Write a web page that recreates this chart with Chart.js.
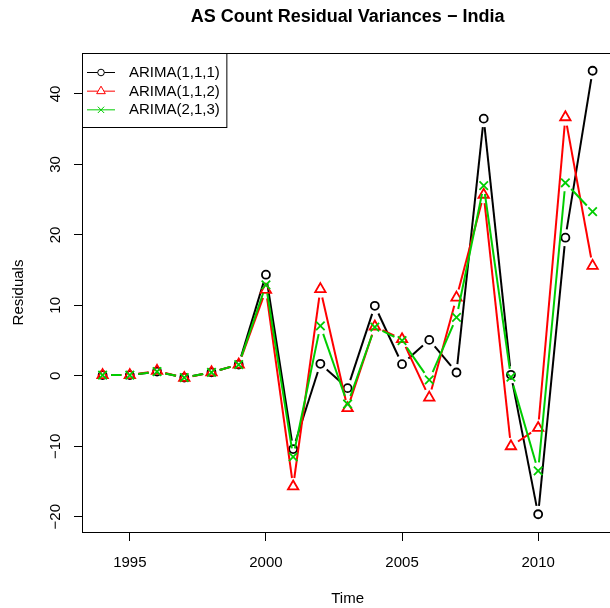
<!DOCTYPE html>
<html><head><meta charset="utf-8">
<style>html,body{margin:0;padding:0;background:#fff;overflow:hidden}#wrap{width:610px;height:608px;overflow:hidden;position:relative;background:#fff}canvas{display:block}</style>
<script src="https://cdn.jsdelivr.net/npm/chart.js@4/dist/chart.umd.min.js"></script>
</head><body><div id="wrap"><canvas id="c" width="620" height="608"></canvas></div>
<script>
// ---- data ----
const years = [1994,1995,1996,1997,1998,1999,2000,2001,2002,2003,2004,2005,2006,2007,2008,2009,2010,2011,2012];
const arima111 = [0.1,0.1,0.6,-0.25,0.5,1.6,14.35,-10.4,1.7,-1.75,9.94,1.65,5.1,0.47,36.5,0.14,-19.65,19.6,43.3];
const arima112 = [0.1,0.1,0.7,-0.3,0.5,1.6,12.2,-15.7,12.3,-4.6,7.0,5.2,-3.1,11.1,25.7,-10.0,-7.4,36.7,15.6];
const arima213 = [0.1,0.1,0.6,-0.25,0.5,1.6,12.9,-11.5,7.1,-4.0,6.9,5.0,-0.57,8.3,27.0,-0.2,-13.5,27.4,23.3];
const seriesNames = ['ARIMA(1,1,1)','ARIMA(1,1,2)','ARIMA(2,1,3)'];
const xTickValues = [1995,2000,2005,2010];
const yTickValues = [-20,-10,0,10,20,30,40];
const titleText = 'AS Count Residual Variances \u2212 India';
const xTitle = 'Time';
const yTitle = 'Residuals';

// ---- styling ----
const FONT = '"Liberation Sans", Arial, Helvetica, sans-serif';
const colors = ['#000000','#FF0000','#00CD00'];
const styles = ['circle','triangle','crossRot'];
const radii = [4,6,6];
const legendRadii = [3.3,5,4.5];
const GAP = 8.5;

// axis ranges extended by 4% like R
const xMinD = Math.min(...years), xMaxD = Math.max(...years);
const allY = arima111.concat(arima112, arima213);
const yMinD = Math.min(...allY), yMaxD = Math.max(...allY);
const xPad = (xMaxD - xMinD) * 0.04, yPad = (yMaxD - yMinD) * 0.04;

function gapDash(ctx) {
  const p0 = ctx.p0, p1 = ctx.p1;
  const L = Math.hypot(p1.x - p0.x, p1.y - p0.y);
  if (L <= 2 * GAP) return [0, Math.max(L, 0.01)];
  return [0, GAP, L - 2 * GAP, GAP];
}

function makeDataset(label, vals, i) {
  return {
    label: label,
    data: years.map((y, k) => ({x: y, y: vals[k]})),
    borderColor: colors[i],
    backgroundColor: 'rgba(0,0,0,0)',
    borderWidth: 2,
    tension: 0,
    pointStyle: styles[i],
    pointRadius: radii[i],
    pointBorderWidth: 1.8,
    pointBorderColor: colors[i],
    pointBackgroundColor: 'rgba(0,0,0,0)',
    pointHoverRadius: radii[i],
    segment: { borderDash: gapDash },
    order: 3 - i
  };
}

const fmt = v => (v < 0 ? '\u2212' + Math.abs(v) : String(v));

const decor = {
  id: 'decor',
  afterDraw(chart) {
    const ctx = chart.ctx, ca = chart.chartArea;
    ctx.save();
    // frame
    ctx.strokeStyle = '#000'; ctx.lineWidth = 1;
    ctx.strokeRect(Math.round(ca.left) - 0.5, Math.round(ca.top) + 0.5, Math.round(ca.right - ca.left), Math.round(ca.bottom - ca.top));
    // title
    ctx.fillStyle = '#000';
    ctx.font = 'bold 18px ' + FONT;
    ctx.textAlign = 'center'; ctx.textBaseline = 'middle';
    ctx.fillText(titleText, (ca.left + ca.right) / 2, 17);
    // y tick labels (rotated like R)
    const ys = chart.scales.y;
    ctx.font = '15px ' + FONT;
    yTickValues.forEach(v => {
      const py = ys.getPixelForValue(v);
      ctx.save();
      ctx.translate(55.5, py);
      ctx.rotate(-Math.PI / 2);
      ctx.textAlign = 'center'; ctx.textBaseline = 'middle';
      ctx.fillText(fmt(v), 0, 0);
      ctx.restore();
    });
    // legend
    const lx = Math.round(ca.left) - 0.5, ly = Math.round(ca.top) + 0.5;
    const textX = lx + 46.5;
    let maxW = 0;
    seriesNames.forEach(n => { maxW = Math.max(maxW, ctx.measureText(n).width); });
    const lw = textX + maxW + 7 - lx, lh = 74;
    ctx.fillStyle = '#fff';
    ctx.fillRect(lx, ly, lw, lh);
    ctx.strokeStyle = '#000'; ctx.lineWidth = 1;
    ctx.strokeRect(lx, ly, lw, lh);
    seriesNames.forEach((n, i) => {
      const ry = ly + 19 + i * 18.67;
      ctx.strokeStyle = colors[i]; ctx.lineWidth = 1;
      ctx.beginPath(); ctx.moveTo(lx + 4.5, ry); ctx.lineTo(lx + 32.5, ry); ctx.stroke();
      ctx.fillStyle = '#fff';
      Chart.helpers.drawPoint(ctx, {pointStyle: styles[i], radius: legendRadii[i], rotation: 0, borderWidth: 1}, lx + 18.5, ry);
      ctx.fillStyle = '#000';
      ctx.textAlign = 'left'; ctx.textBaseline = 'middle';
      ctx.fillText(n, textX, ry + 0.5);
    });
    ctx.restore();
  }
};

new Chart(document.getElementById('c'), {
  type: 'line',
  data: { datasets: [
    makeDataset(seriesNames[0], arima111, 0),
    makeDataset(seriesNames[1], arima112, 1),
    makeDataset(seriesNames[2], arima213, 2)
  ]},
  options: {
    responsive: false,
    devicePixelRatio: 1,
    animation: false,
    events: [],
    layout: { padding: { top: 53, right: 3, left: 0, bottom: 0 } },
    plugins: { legend: { display: false }, tooltip: { enabled: false }, title: { display: false } },
    scales: {
      x: {
        type: 'linear',
        min: xMinD - xPad, max: xMaxD + xPad,
        afterBuildTicks: s => { s.ticks = xTickValues.map(v => ({value: v})); },
        afterFit: s => { s.height = 76; },
        grid: { display: true, drawOnChartArea: false, drawTicks: true, tickLength: 9, tickColor: '#000', tickWidth: 1, color: '#000' },
        border: { display: false },
        ticks: { font: { family: FONT, size: 15 }, color: '#000', padding: 13, maxRotation: 0, minRotation: 0, autoSkip: false, callback: v => fmt(v) },
        title: { display: true, text: xTitle, font: { family: FONT, size: 15 }, color: '#000', padding: { top: 0, bottom: 0 } }
      },
      y: {
        type: 'linear',
        min: yMinD - yPad, max: yMaxD + yPad,
        afterBuildTicks: s => { s.ticks = yTickValues.map(v => ({value: v})); },
        afterFit: s => { s.width = 83; },
        grid: { display: true, drawOnChartArea: false, drawTicks: true, tickLength: 9, tickColor: '#000', tickWidth: 1, color: '#000' },
        border: { display: false },
        ticks: { display: false },
        title: { display: true, text: yTitle, font: { family: FONT, size: 15 }, color: '#000', padding: { top: 10, bottom: 0 } }
      }
    }
  },
  plugins: [decor]
});
</script>
</body></html>
